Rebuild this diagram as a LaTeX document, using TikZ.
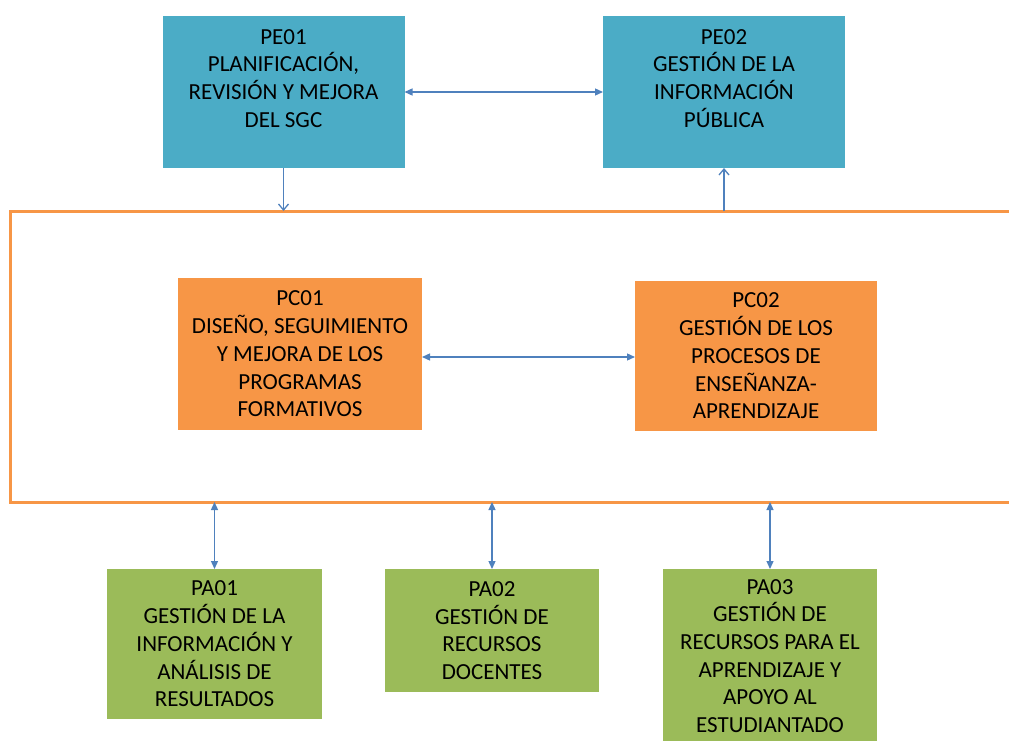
\documentclass[tikz,border=0pt]{standalone}
\usepackage{fontspec}
\setmainfont{Carlito}
\usetikzlibrary{arrows.meta}
\definecolor{peblue}{HTML}{4BACC6}
\definecolor{pcorange}{HTML}{F79646}
\definecolor{pagreen}{HTML}{9BBB59}
\definecolor{arrowblue}{HTML}{4F81BD}
\begin{document}
\begin{tikzpicture}[x=1pt,y=-1pt,
  boxbase/.style={rectangle, inner sep=0pt, outer sep=0pt, align=center, text=black,
    font=\fontsize{23}{27.7}\selectfont},
  pebox/.style={boxbase, fill=peblue},
  pcbox/.style={boxbase, fill=pcorange},
  pabox/.style={boxbase, fill=pagreen},
  framebox/.style={rectangle, draw=pcorange, line width=3pt, inner sep=0pt, outer sep=0pt},
  link/.style={draw=arrowblue, line width=1.3pt},
  twoway/.style={link, {Triangle[length=8pt,width=7pt]}-{Triangle[length=8pt,width=7pt]}},
  openarrow/.style={link, -{Straight Barb[length=6pt,width=10pt]}}]
\useasboundingbox (0,0) rectangle (1009,741);
\fill[white] (0,0) rectangle (1009,741);

\node[framebox, minimum width=1020pt, minimum height=291pt] (frame) at (520,356.5) {};

\node[pebox, minimum width=242pt, minimum height=152pt] (pe01) at (283.5,92)
  {PE01\\PLANIFICACIÓN,\\REVISIÓN Y MEJORA\\DEL SGC\\\mbox{}};
\node[pebox, minimum width=242pt, minimum height=152pt] (pe02) at (724,92)
  {PE02\\GESTIÓN DE LA\\INFORMACIÓN\\PÚBLICA\\\mbox{}};

\node[pcbox, minimum width=244pt, minimum height=152pt] (pc01) at (300,354)
  {PC01\\DISEÑO, SEGUIMIENTO\\Y MEJORA DE LOS\\PROGRAMAS\\FORMATIVOS};
\node[pcbox, minimum width=242pt, minimum height=150pt] (pc02) at (756,356)
  {PC02\\GESTIÓN DE LOS\\PROCESOS DE\\ENSEÑANZA-\\APRENDIZAJE};

\node[pabox, minimum width=215pt, minimum height=150pt] (pa01) at (214.5,644)
  {PA01\\GESTIÓN DE LA\\INFORMACIÓN Y\\ANÁLISIS DE\\RESULTADOS};
\node[pabox, minimum width=214pt, minimum height=123pt] (pa02) at (492,630.5)
  {PA02\\GESTIÓN DE\\RECURSOS\\DOCENTES};
\node[pabox, minimum width=214pt, minimum height=174pt] (pa03) at (770,656)
  {PA03\\GESTIÓN DE\\RECURSOS PARA EL\\APRENDIZAJE Y\\APOYO AL\\ESTUDIANTADO};

\draw[twoway] (pe01.east) -- (pe02.west);
\draw[openarrow] (pe01.south) -- (pe01.south |- frame.north);
\draw[openarrow] (pe02.south |- frame.north) -- (pe02.south);
\draw[twoway] ([yshift=-3pt]pc01.east) -- ([yshift=-1pt]pc02.west);
\draw[twoway] (frame.south -| pa01.north) -- (pa01.north);
\draw[twoway] (frame.south -| pa02.north) -- (pa02.north);
\draw[twoway] (frame.south -| pa03.north) -- (pa03.north);
\end{tikzpicture}
\end{document}
